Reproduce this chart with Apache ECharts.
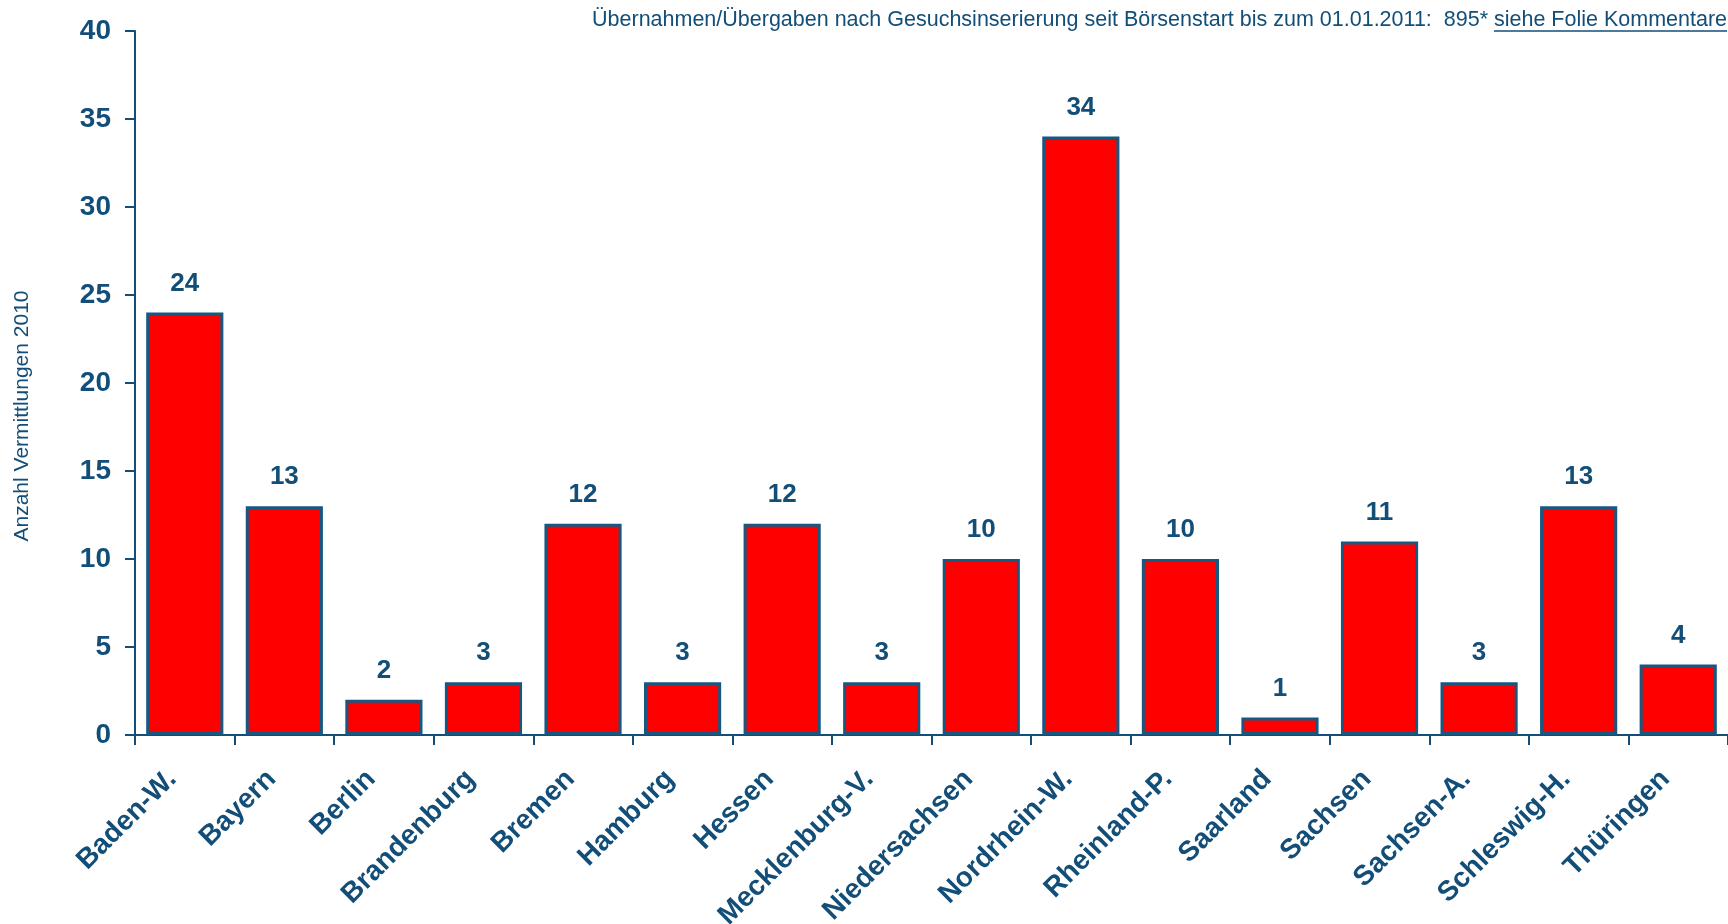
<!DOCTYPE html>
<html>
<head>
<meta charset="utf-8">
<script src="https://cdn.jsdelivr.net/npm/echarts@6/dist/echarts.min.js"></script>
<style>
html,body{margin:0;padding:0;background:#fff;}
#chart{width:1728px;height:924px;}
</style>
</head>
<body>
<div id="chart"></div>
<script>
const categories = ['Baden-W.','Bayern','Berlin','Brandenburg','Bremen','Hamburg','Hessen','Mecklenburg-V.','Niedersachsen','Nordrhein-W.','Rheinland-P.','Saarland','Sachsen','Sachsen-A.','Schleswig-H.','Thüringen'];
const values = [24,13,2,3,12,3,12,3,10,34,10,1,11,3,13,4];
const yTicks = {min:0, max:40, interval:5};
const yAxisTitle = 'Anzahl Vermittlungen 2010';
const noteText = 'Übernahmen/Übergaben nach Gesuchsinserierung seit Börsenstart bis zum 01.01.2011:  895* ';
const noteLink = 'siehe Folie Kommentare';

const blue = '#124e78';
const font = '"Liberation Sans", Arial, sans-serif';

function measure(txt, size, weight){
  const c = document.createElement('canvas').getContext('2d');
  c.font = (weight||'normal') + ' ' + size + 'px ' + font;
  return c.measureText(txt).width;
}
const noteSize = 21.5;
const linkW = measure(noteLink, noteSize);
const rightEdge = 1727;

const chart = echarts.init(document.getElementById('chart'));
chart.setOption({
  animation:false,
  backgroundColor:'#fff',
  grid:{left:135, right:0, top:31, bottom:189, containLabel:false, outerBoundsMode:'none'},
  xAxis:{
    type:'category',
    data:categories,
    axisLine:{lineStyle:{color:blue, width:2}},
    axisTick:{show:true, length:10, lineStyle:{color:blue, width:2}, alignWithLabel:false},
    axisLabel:{rotate:45, margin:27, padding:[0,18,0,0], color:blue, fontSize:28, fontWeight:'bold', fontFamily:font, interval:0}
  },
  yAxis:{
    type:'value',
    min:yTicks.min, max:yTicks.max, interval:yTicks.interval,
    axisLine:{show:true, lineStyle:{color:blue, width:2}},
    axisTick:{show:true, length:10, lineStyle:{color:blue, width:2}},
    splitLine:{show:false},
    axisLabel:{margin:24, color:blue, fontSize:28, fontWeight:'bold', fontFamily:font}
  },
  series:[{
    type:'bar',
    data:values,
    barCategoryGap:'22.5%',
    itemStyle:{color:'#ff0000', borderColor:'#175780', borderWidth:3},
    label:{show:true, position:'top', distance:16, color:blue, fontSize:26, fontWeight:'bold', fontFamily:font}
  }],
  graphic:[
    {type:'text', x:22, y:416, rotation:Math.PI/2,
     style:{text:yAxisTitle, fill:blue, font:'normal 21px '+font, align:'center', verticalAlign:'middle'}},
    {type:'text', x:rightEdge - linkW, y:20,
     style:{text:noteText, fill:blue, font:'normal '+noteSize+'px '+font, align:'right', verticalAlign:'middle'}},
    {type:'text', x:rightEdge, y:20,
     style:{text:noteLink, fill:blue, font:'normal '+noteSize+'px '+font, align:'right', verticalAlign:'middle'}},
    {type:'line', shape:{x1:rightEdge - linkW, y1:31, x2:rightEdge, y2:31}, style:{stroke:blue, lineWidth:1.5}}
  ]
});
</script>
</body>
</html>
